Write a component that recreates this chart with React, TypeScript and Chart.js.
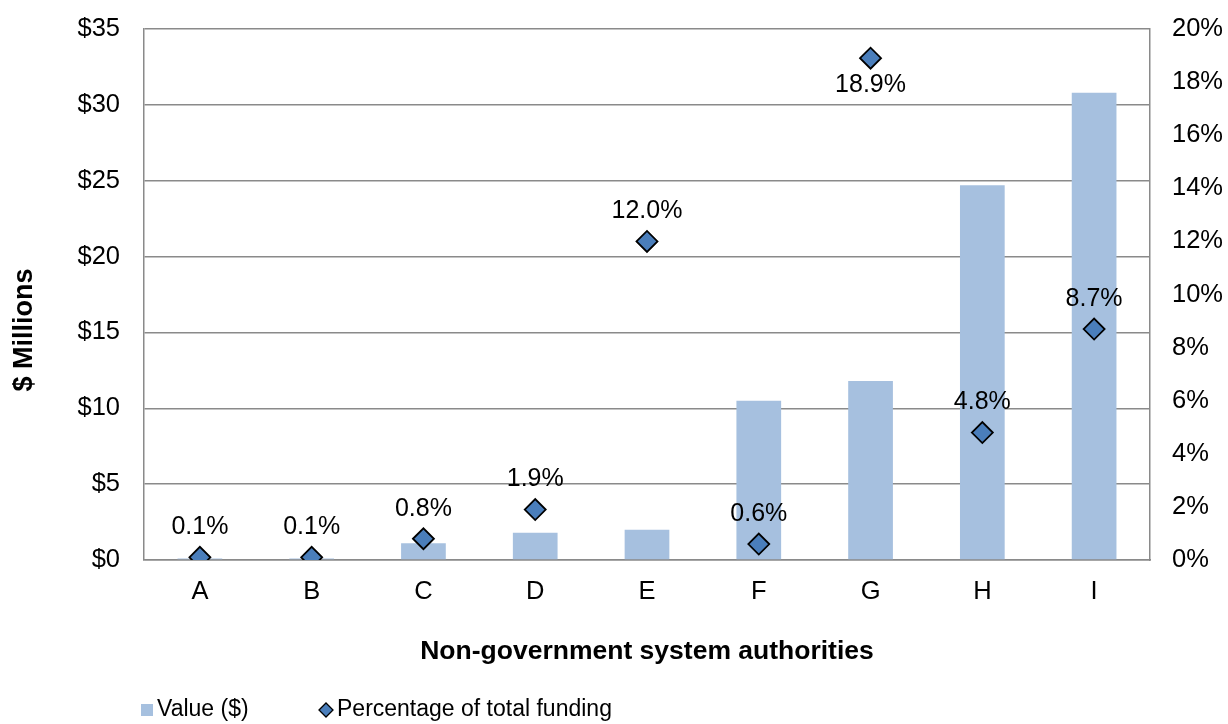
import React, { useEffect, useRef } from "react";
import { Chart, registerables } from "chart.js";

Chart.register(...registerables);

// Categories and series
const categories = ["A", "B", "C", "D", "E", "F", "G", "H", "I"];
const valueMillions = [0.1, 0.1, 1.1, 1.8, 2.0, 10.5, 11.8, 24.7, 30.8];
const pctOfTotal = [0.1, 0.1, 0.8, 1.9, 12.0, 0.6, 18.9, 4.8, 8.7];
// Categories whose percentage label sits under its marker
const labelBelow = ["G"];

// Axis ticks
const leftTicks = { min: 0, max: 35, step: 5 };
const rightTicks = { min: 0, max: 20, step: 2 };

const FONT = "'Liberation Sans', Arial, Helvetica, sans-serif";
const BAR_COLOR = "#a6c0df";
const MARKER_COLOR = "#4a7ebb";
const GRID_COLOR = "#8a8a8a";

const W = 1228;
const H = 724;
const PLOT_TOP = 29;
const PLOT_LEFT = 144;
const PLOT_RIGHT = 1150;
const PLOT_BOTTOM = 560;

const decorations = {
  id: "decorations",
  afterDatasetsDraw(chart: any) {
    const ctx = chart.ctx as CanvasRenderingContext2D;
    const meta = chart.getDatasetMeta(1);
    ctx.save();
    ctx.fillStyle = "#000";
    ctx.font = `25px ${FONT}`;
    ctx.textAlign = "center";
    ctx.textBaseline = "middle";
    meta.data.forEach((pt: any, i: number) => {
      const below = labelBelow.includes(categories[i]);
      const text = pctOfTotal[i].toFixed(1) + "%";
      ctx.fillText(text, pt.x, pt.y + (below ? 27 : -30));
    });
    ctx.restore();
  },
  afterDraw(chart: any) {
    const ctx = chart.ctx as CanvasRenderingContext2D;
    const area = chart.chartArea;
    ctx.save();
    ctx.fillStyle = "#000";
    ctx.textAlign = "center";
    ctx.textBaseline = "middle";
    // x axis title
    ctx.font = `bold 26.5px ${FONT}`;
    ctx.fillText("Non-government system authorities", (area.left + area.right) / 2, 652);
    // y axis title
    ctx.save();
    ctx.font = `bold 27px ${FONT}`;
    ctx.translate(25, 330);
    ctx.rotate(-Math.PI / 2);
    ctx.fillText("$ Millions", 0, 0);
    ctx.restore();

    // legend
    const ly = 710;
    ctx.font = `23px ${FONT}`;
    ctx.textAlign = "left";
    ctx.fillStyle = BAR_COLOR;
    ctx.fillRect(141, ly - 6, 12, 12);
    ctx.fillStyle = "#000";
    ctx.fillText("Value ($)", 157, ly);

    ctx.beginPath();
    const dx = 326;
    const r = 7;
    ctx.moveTo(dx - r, ly);
    ctx.lineTo(dx, ly - r);
    ctx.lineTo(dx + r, ly);
    ctx.lineTo(dx, ly + r);
    ctx.closePath();
    ctx.fillStyle = MARKER_COLOR;
    ctx.fill();
    ctx.lineWidth = 1.3;
    ctx.strokeStyle = "#000";
    ctx.stroke();
    ctx.fillStyle = "#000";
    ctx.fillText("Percentage of total funding", 337, ly);
    ctx.restore();
  },
};

// Vertical axes: fixed width, no extra top/bottom padding for tick labels
const fitVertical = (width: number) => (scale: any) => {
  scale.width = width;
  scale.paddingTop = 0;
  scale.paddingBottom = 0;
};

export default function App() {
  const canvasRef = useRef<HTMLCanvasElement | null>(null);

  useEffect(() => {
    document.body.style.margin = "0";
    const canvas = canvasRef.current;
    if (!canvas) return;
    const chart = new Chart(canvas, {
      type: "bar",
      data: {
        labels: categories,
        datasets: [
          {
            type: "bar",
            label: "Value ($)",
            data: valueMillions,
            backgroundColor: BAR_COLOR,
            yAxisID: "y",
            categoryPercentage: 1,
            barPercentage: 0.4,
            order: 2,
          },
          {
            type: "line",
            label: "Percentage of total funding",
            data: pctOfTotal,
            yAxisID: "y1",
            showLine: false,
            pointStyle: "rectRot",
            pointRadius: 10.5,
            pointBackgroundColor: MARKER_COLOR,
            pointBorderColor: "#000",
            pointBorderWidth: 1.8,
            order: 1,
          } as any,
        ],
      },
      options: {
        responsive: false,
        animation: false,
        layout: { padding: { top: PLOT_TOP, left: 0, right: 0, bottom: 0 } },
        plugins: {
          legend: { display: false },
          tooltip: { enabled: false },
        },
        scales: {
          x: {
            offset: true,
            grid: { display: false, drawTicks: false },
            border: { display: true, color: GRID_COLOR, width: 1.5 },
            ticks: {
              color: "#000",
              font: { family: FONT, size: 25.5 },
              padding: 17,
            },
            afterFit(scale: any) {
              scale.height = H - PLOT_BOTTOM;
            },
          },
          y: {
            position: "left",
            min: leftTicks.min,
            max: leftTicks.max,
            grid: { color: GRID_COLOR, lineWidth: 1.5, drawTicks: false },
            border: { display: true, color: GRID_COLOR, width: 1.5 },
            ticks: {
              stepSize: leftTicks.step,
              color: "#000",
              font: { family: FONT, size: 25.5 },
              padding: 24,
              callback: (v: any) => "$" + v,
            },
            afterFit: fitVertical(PLOT_LEFT),
          },
          y1: {
            position: "right",
            min: rightTicks.min,
            max: rightTicks.max,
            grid: { display: false, drawTicks: false },
            border: { display: true, color: GRID_COLOR, width: 1.5 },
            ticks: {
              stepSize: rightTicks.step,
              color: "#000",
              font: { family: FONT, size: 25.5 },
              padding: 22,
              callback: (v: any) => v + "%",
            },
            afterFit: fitVertical(W - PLOT_RIGHT),
          },
        },
      },
      plugins: [decorations],
    });
    return () => chart.destroy();
  }, []);

  return (
    <div style={{ width: W, height: H, background: "#fff" }}>
      <canvas ref={canvasRef} width={W} height={H} />
    </div>
  );
}
